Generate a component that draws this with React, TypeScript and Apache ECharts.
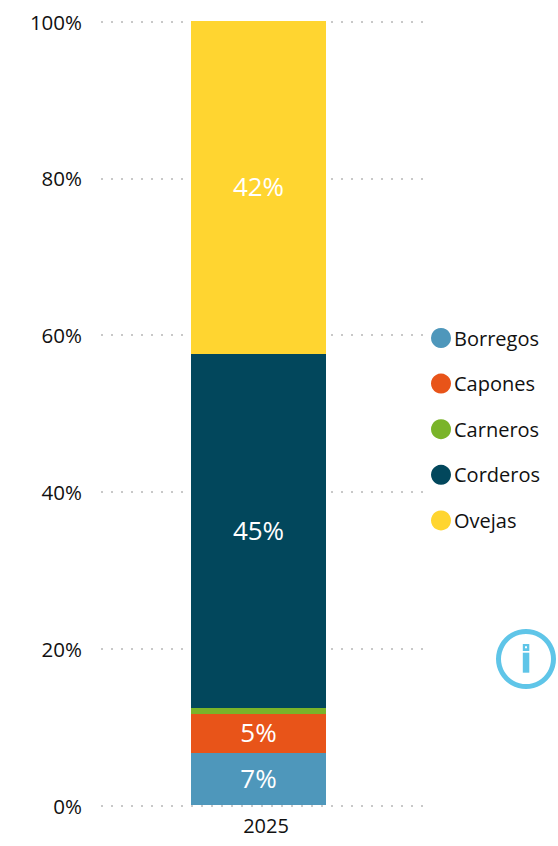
import React, { useEffect, useRef } from "react";
import * as echarts from "echarts";

const categories = ["2025"];
const seriesNames = ["Borregos", "Capones", "Carneros", "Corderos", "Ovejas"];
const borregos = [6.63];
const capones = [4.97];
const carneros = [0.77];
const corderos = [45.15];
const ovejas = [42.48];
const seriesValues = [borregos, capones, carneros, corderos, ovejas];
const colors = ["#4e97bb", "#e85419", "#7ab429", "#02475c", "#ffd530"];
const showLabel = [true, true, false, true, true];
const FONT = '"Open Sans", "Noto Sans", sans-serif';
const ICON = "#5fc5e8";

export default function App() {
  const ref = useRef<HTMLDivElement>(null);
  useEffect(() => {
    const chart = echarts.init(ref.current!, null, { renderer: "svg" });
    chart.setOption({
      animation: false,
      textStyle: { fontFamily: FONT },
      grid: [
        { left: 101, top: 21.5, width: 323, height: 784 },
        { left: 101, top: 21, width: 315, height: 784 },
      ],
      xAxis: [
        {
          type: "category",
          gridIndex: 0,
          data: categories,
          axisLine: { show: false },
          axisTick: { show: false },
          axisLabel: { color: "#111111", fontSize: 20, fontFamily: FONT, margin: 10, padding: [0, 0, 0, 7] },
        },
        {
          type: "category",
          gridIndex: 1,
          data: categories,
          show: false,
        },
      ],
      yAxis: [
        {
          type: "value",
          gridIndex: 0,
          min: 0,
          max: 100,
          interval: 20,
          axisLine: { show: false },
          axisTick: { show: false },
          axisLabel: { color: "#111111", fontSize: 20.5, fontFamily: FONT, margin: 19, formatter: "{value}%" },
          splitLine: { show: true, lineStyle: { color: "#c8c8c8", width: 2, type: [2, 8] } },
        },
        { type: "value", gridIndex: 1, min: 0, max: 100, show: false, splitLine: { show: false } },
      ],
      legend: {
        orient: "vertical",
        left: 431,
        top: 328,
        padding: 0,
        icon: "circle",
        itemWidth: 20,
        itemHeight: 20,
        itemGap: 25.6,
        data: seriesNames,
        textStyle: { color: "#111111", fontSize: 20, fontFamily: FONT, padding: [0, 0, 0, -2] },
      },
      series: seriesNames.map((name, i) => ({
        name,
        type: "bar",
        stack: "total",
        xAxisIndex: 1,
        yAxisIndex: 1,
        barWidth: 135,
        data: seriesValues[i],
        itemStyle: { color: colors[i] },
        label: {
          show: showLabel[i],
          position: "inside",
          offset: [0, -1.5],
          color: "#ffffff",
          fontSize: 26,
          fontFamily: FONT,
          formatter: (p: any) => `${Math.round(p.value)}%`,
        },
      })),
      graphic: [
        {
          type: "ring",
          shape: { cx: 526, cy: 659, r: 30, r0: 25 },
          style: { fill: ICON },
        },
        { type: "rect", shape: { x: 522.8, y: 652.7, width: 6.5, height: 20 }, style: { fill: ICON } },
        { type: "rect", shape: { x: 522.8, y: 644, width: 6.5, height: 7 }, style: { fill: ICON } },
        { type: "rect", shape: { x: 525, y: 646.3, width: 2, height: 2 }, style: { fill: "#ffffff" } },
      ],
    });
    return () => chart.dispose();
  }, []);
  return <div ref={ref} style={{ position: "absolute", left: 0, top: 0, width: 558, height: 846 }} />;
}
